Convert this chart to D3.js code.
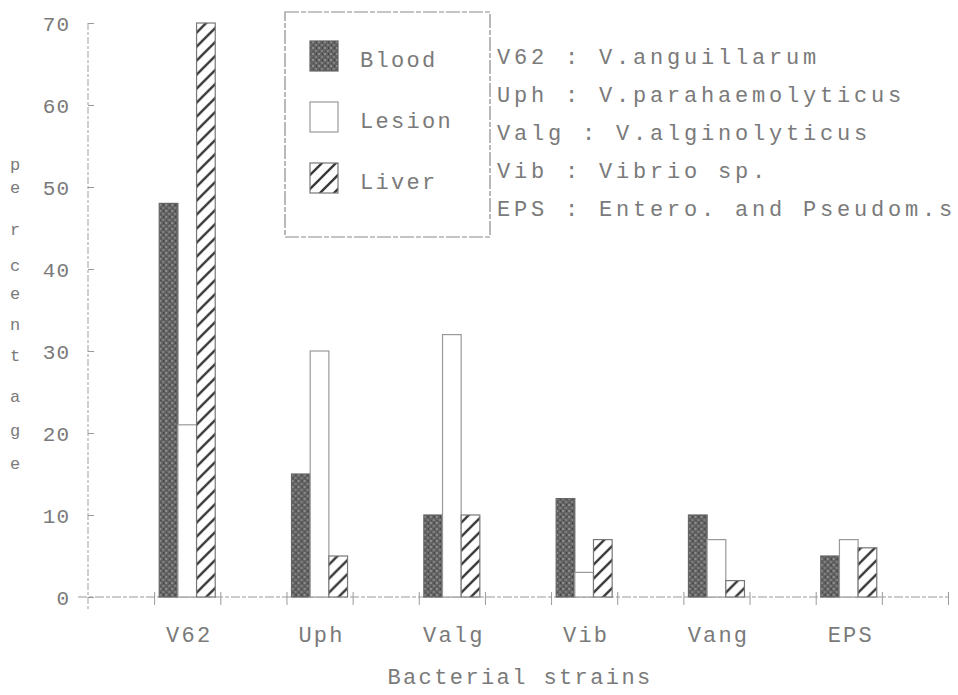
<!DOCTYPE html>
<html>
<head>
<meta charset="utf-8">
<script src="https://cdn.jsdelivr.net/npm/d3@7/dist/d3.min.js"></script>
<style>
  html, body { margin: 0; padding: 0; background: #fff; }
  svg { display: block; }
  text { font-family: "Liberation Mono", "DejaVu Sans Mono", monospace; fill: #7a7a7a; }
</style>
</head>
<body>
<svg id="chart" width="958" height="695"></svg>
<script>
// ---- data ----
const categories = ["V62", "Uph", "Valg", "Vib", "Vang", "EPS"];
const seriesNames = ["Blood", "Lesion", "Liver"];
const bloodValues  = [48, 15, 10, 12, 10, 5];
const lesionValues = [21, 30, 32, 3, 7, 7];
const liverValues  = [70, 5, 10, 7, 2, 6];
const yTickValues = [0, 10, 20, 30, 40, 50, 60, 70];
const noteLines = [
  "V62 : V.anguillarum",
  "Uph : V.parahaemolyticus",
  "Valg : V.alginolyticus",
  "Vib : Vibrio sp.",
  "EPS : Entero. and Pseudom.s"
];
const yTitle = "percentage";
const xTitle = "Bacterial strains";

const seriesValues = { Blood: bloodValues, Lesion: lesionValues, Liver: liverValues };

// ---- setup ----
const svg = d3.select("#chart");
const defs = svg.append("defs");

// mottled dark fill for Blood
const pb = defs.append("pattern").attr("id", "pBlood")
  .attr("patternUnits", "userSpaceOnUse").attr("width", 6).attr("height", 6);
pb.append("rect").attr("width", 6).attr("height", 6).attr("fill", "#636363");
pb.append("rect").attr("x", 0).attr("y", 0).attr("width", 2).attr("height", 2).attr("fill", "#8e8e8e");
pb.append("rect").attr("x", 3).attr("y", 3).attr("width", 2).attr("height", 2).attr("fill", "#808080");
pb.append("rect").attr("x", 4).attr("y", 0).attr("width", 1).attr("height", 2).attr("fill", "#404040");
pb.append("rect").attr("x", 1).attr("y", 4).attr("width", 1).attr("height", 1).attr("fill", "#474747");

// diagonal hatch for Liver
const ph = defs.append("pattern").attr("id", "pLiver")
  .attr("patternUnits", "userSpaceOnUse").attr("width", 14).attr("height", 14);
ph.append("rect").attr("width", 14).attr("height", 14).attr("fill", "#fff");
ph.append("path").attr("d", "M-2,16 L16,-2 M-9,9 L9,-9 M5,23 L23,5")
  .attr("stroke", "#3a3a3a").attr("stroke-width", 2.4);

const fills = { Blood: "url(#pBlood)", Lesion: "#ffffff", Liver: "url(#pLiver)" };
const strokes = { Blood: "#666", Lesion: "#999", Liver: "#777" };

// ---- scales ----
const xPos = d3.scaleLinear().domain([0, 13]).range([88, 948]);
const x = d3.scaleBand().domain(categories).range([xPos(0.5), xPos(12.5)]).paddingInner(0);
const groupW = 56;
const xs = d3.scaleBand().domain(seriesNames).range([0, groupW]);
const y = d3.scaleLinear().domain([0, 70]).range([597, 23]);

// ---- axes ----
const axisColor = "#9a9a9a";

svg.append("line")
  .attr("x1", 78).attr("x2", xPos(13)).attr("y1", y(0)).attr("y2", y(0))
  .attr("stroke", axisColor).attr("stroke-width", 1.2).attr("stroke-dasharray", "9 2 4 2");

const gx = svg.append("g").attr("transform", `translate(0,${y(0)})`)
  .call(d3.axisBottom(xPos).tickValues(d3.range(1, 14)).tickSize(8).tickFormat(""));
gx.select(".domain").remove();
gx.selectAll(".tick line").attr("y1", -5).attr("stroke", axisColor);

svg.append("line")
  .attr("x1", xPos(0)).attr("x2", xPos(0)).attr("y1", y(70)).attr("y2", 610)
  .attr("stroke", "#b0b0b0").attr("stroke-width", 1.2).attr("stroke-dasharray", "7 2 3 2");

const gy = svg.append("g").attr("transform", `translate(${xPos(0)},0)`)
  .call(d3.axisLeft(y).tickValues(yTickValues).tickSize(6).tickPadding(12));
gy.select(".domain").remove();
gy.selectAll(".tick line").attr("x2", 6).attr("stroke", axisColor);
gy.selectAll(".tick text")
  .attr("font-size", 21).attr("fill", "#8c8c8c")
  .style("font-family", "'Liberation Mono', monospace")
  .attr("letter-spacing", 1).attr("dy", "0.36em")
  .style("font-variant-numeric", "slashed-zero");

// ---- bars ----
const groups = svg.append("g").selectAll("g.grp")
  .data(categories).join("g").attr("class", "grp")
  .attr("transform", c => `translate(${x(c) + (x.bandwidth() - groupW) / 2},0)`);

groups.selectAll("rect")
  .data((c, i) => seriesNames.map(s => ({ s, v: seriesValues[s][i] })))
  .join("rect")
  .attr("x", d => xs(d.s))
  .attr("width", xs.bandwidth())
  .attr("y", d => y(d.v))
  .attr("height", d => y(0) - y(d.v))
  .attr("fill", d => fills[d.s])
  .attr("stroke", d => strokes[d.s])
  .attr("stroke-width", 1.2);

// category labels
svg.append("g").selectAll("text")
  .data(categories).join("text")
  .attr("x", c => x(c) + x.bandwidth() / 2 + 2)
  .attr("y", 642)
  .attr("text-anchor", "middle")
  .attr("font-size", 22).attr("letter-spacing", 2.2)
  .attr("fill", "#858585")
  .text(c => c);

// x title
svg.append("text")
  .attr("x", (xPos(0) + xPos(13)) / 2 + 2).attr("y", 684)
  .attr("text-anchor", "middle")
  .attr("font-size", 22).attr("letter-spacing", 2.4)
  .attr("fill", "#7a7a7a")
  .text(xTitle);

// y title (stacked letters)
const yLetterPos = [165, 188, 230, 266, 294, 325, 356, 397, 431, 464];
svg.append("g").selectAll("text")
  .data(yTitle.split(""))
  .join("text")
  .attr("x", 15)
  .attr("y", (d, i) => yLetterPos[i] + 5)
  .attr("text-anchor", "middle")
  .attr("font-size", 17).attr("fill", "#8a8a8a")
  .text(d => d);

// ---- legend ----
const lg = svg.append("g");
lg.append("rect").attr("x", 285).attr("y", 12).attr("width", 205).attr("height", 225)
  .attr("fill", "#fff").attr("stroke", "#8a8a8a").attr("stroke-width", 1.2)
  .attr("stroke-dasharray", "14 2 5 2");
const legendRowY = d3.scalePoint().domain(seriesNames).range([41, 163]);
const lr = lg.selectAll("g.row").data(seriesNames).join("g").attr("class", "row")
  .attr("transform", s => `translate(0,${legendRowY(s)})`);
lr.append("rect").attr("x", 310).attr("y", 0).attr("width", 28).attr("height", 30)
  .attr("fill", s => fills[s]).attr("stroke", s => strokes[s]).attr("stroke-width", 1.2);
lr.append("text").attr("x", 360).attr("y", 26)
  .attr("font-size", 22).attr("letter-spacing", 2.3).attr("fill", "#7f7f7f")
  .text(s => s);

// ---- annotation text ----
const noteY = d3.scalePoint().domain(d3.range(noteLines.length)).range([64, 216]);
svg.append("g").selectAll("text")
  .data(noteLines).join("text")
  .attr("x", 497)
  .attr("y", (d, i) => noteY(i))
  .attr("font-size", 22).attr("letter-spacing", 3.8)
  .attr("fill", "#7a7a7a")
  .text(d => d);
</script>
</body>
</html>
